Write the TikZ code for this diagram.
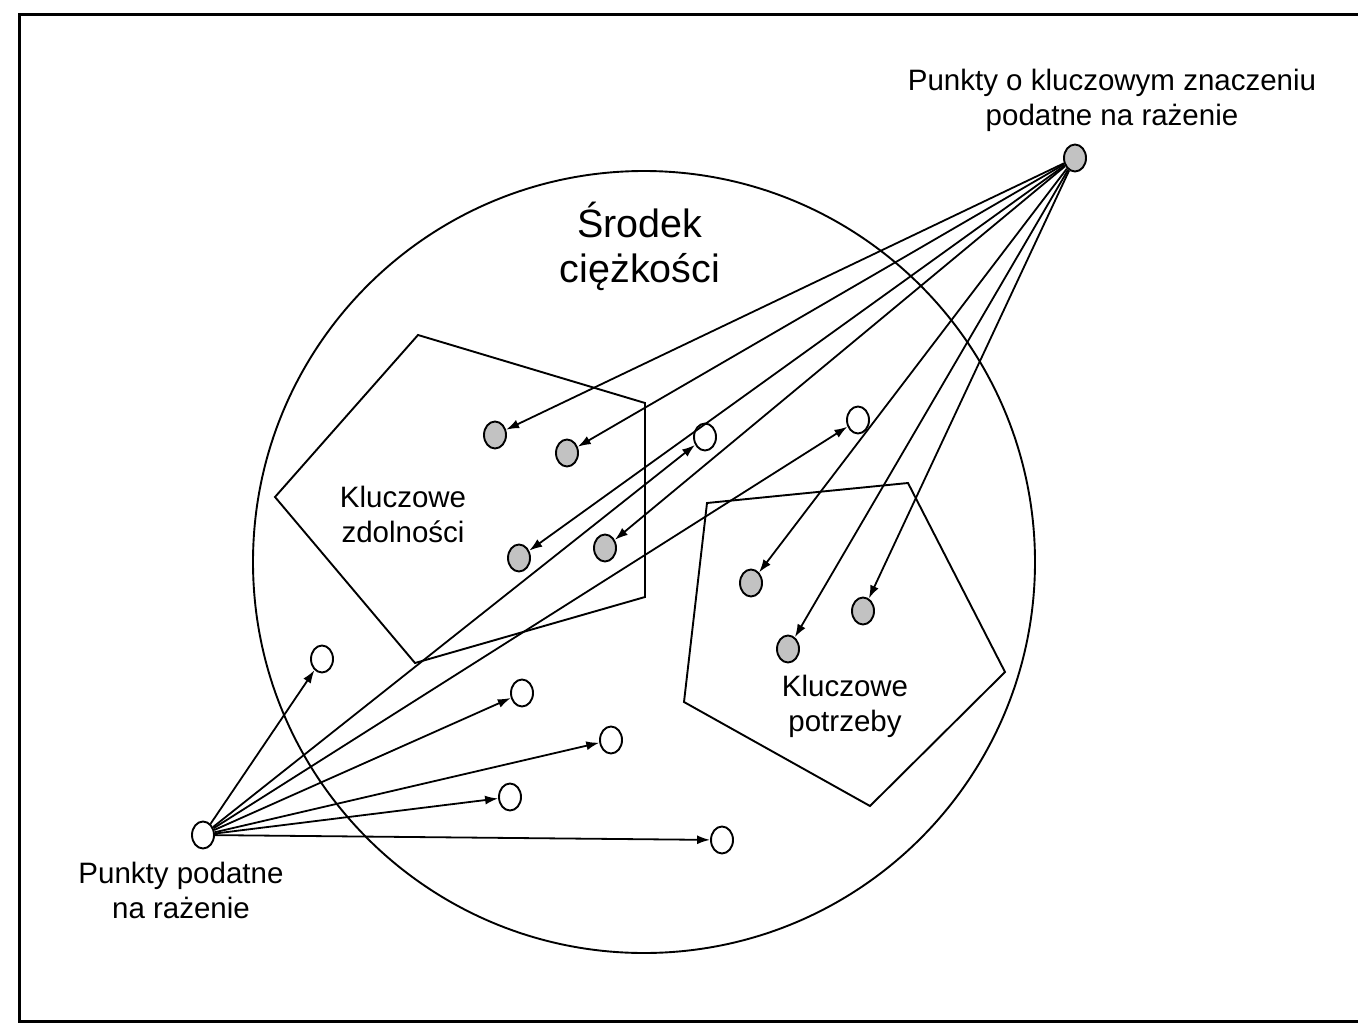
\documentclass[tikz,border=0pt]{standalone}
\usepackage{fontspec}
\setmainfont{Liberation Sans}
\usetikzlibrary{arrows.meta,shapes.geometric}
\begin{document}
\begin{tikzpicture}[x=1pt,y=-1pt,
  line width=1.9pt,
  pt/.style={ellipse,draw,line width=1.9pt,minimum width=22pt,minimum height=27pt,inner sep=0pt},
  crit/.style={pt,fill=black!24},
  vuln/.style={pt,fill=white},
  conn/.style={line width=1.8pt,-{Latex[length=13pt,width=9pt]}},
  lbl/.style={align=center,inner sep=0pt,font=\fontsize{29.5}{35}\selectfont},
  biglbl/.style={align=center,inner sep=0pt,font=\fontsize{39.5}{45}\selectfont}]
\useasboundingbox (0,0) rectangle (1358,1028);
\fill[white] (0,0) rectangle (1358,1028);
% outer frame (right side runs off the page)
\draw[line width=3pt] (1380,14) -- (19,14) -- (19,1021) -- (1380,1021);

% centre of gravity
\draw (644,562) circle[radius=391];

% key capabilities and key requirements
\draw (418,335) -- (645,403) -- (645,597) -- (415,663) -- (275,497) -- cycle;
\draw (707,503) -- (908,483) -- (1005,672) -- (870,806) -- (684,702) -- cycle;

% points
\node[crit] (tr) at (1075,158) {};
\node[vuln] (bl) at (203,835) {};
\node[crit] (g1) at (495,435) {};
\node[crit] (g2) at (567,453) {};
\node[crit] (g3) at (519,558) {};
\node[crit] (g4) at (605,548) {};
\node[crit] (g5) at (751,583) {};
\node[crit] (g6) at (788,649) {};
\node[crit] (g7) at (863,611) {};
\node[vuln] (w1) at (705,437) {};
\node[vuln] (w2) at (858,420) {};
\node[vuln] (w3) at (322,659) {};
\node[vuln] (w4) at (522,693) {};
\node[vuln] (w5) at (611,740) {};
\node[vuln] (w6) at (510,797) {};
\node[vuln] (w7) at (722,840) {};

% connectors
\foreach \t in {g1,g2,g3,g4,g5,g6,g7} \draw[conn] (tr) -- (\t);
\foreach \t in {w1,w2,w3,w4,w5,w6,w7} \draw[conn] (bl) -- (\t);

% labels
\node[lbl] (ltr) at (1112,100) {Punkty o kluczowym znaczeniu\\podatne na rażenie};
\node[biglbl] (lcg) at (640,246) {Środek\\ciężkości};
\node[lbl] (lkz) at (403,514) {Kluczowe\\zdolności};
\node[lbl] (lkp) at (845,706) {Kluczowe\\potrzeby};
\node[lbl] (lbl) at (181,890) {Punkty podatne\\na rażenie};
\end{tikzpicture}
\end{document}
